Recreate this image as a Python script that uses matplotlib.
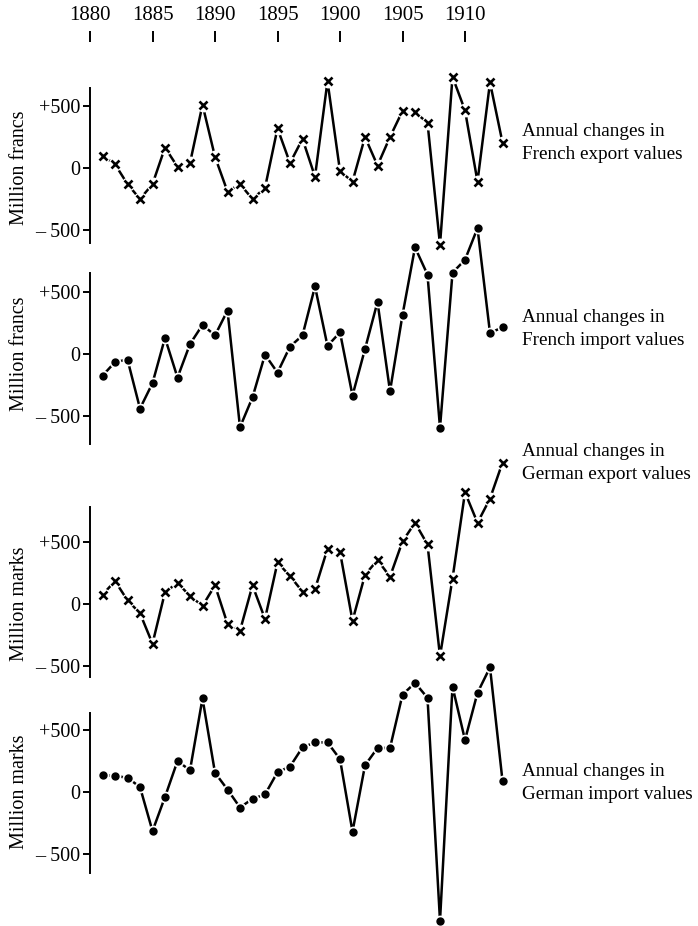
import numpy as np
import matplotlib.pyplot as plt

plt.rcParams['font.family'] = ['Liberation Serif', 'DejaVu Serif']
plt.rcParams['font.size'] = 13

# annual changes, 1881-1913
years = list(range(1881, 1914))
fr_exp = [100, 30, -130, -250, -130, 165, 10, 40, 510, 90, -190, -130, -250, -160, 320,
          40, 235, -70, 700, -25, -110, 250, 20, 250, 460, 450, 365, -620, 735, 465,
          -110, 690, 205]
fr_imp = [-175, -65, -45, -440, -235, 130, -190, 80, 235, 150, 350, -590, -350, -5, -150,
          60, 150, 545, 65, 175, -335, 40, 420, -300, 315, 860, 640, -595, 655, 760,
          1015, 170, 215]
de_exp = [75, 185, 30, -75, -320, 95, 170, 65, -15, 150, -160, -215, 150, -120, 335,
          225, 100, 120, 445, 420, -135, 235, 355, 220, 505, 655, 480, -420, 205, 900,
          655, 850, 1140]
de_imp = [135, 130, 115, 40, -315, -40, 250, 175, 755, 155, 20, -125, -55, -20, 160,
          205, 360, 400, 400, 265, -320, 215, 355, 355, 785, 880, 760, -1040, 850, 420,
          800, 1005, 90]
tick_years = [1880, 1885, 1890, 1895, 1900, 1905, 1910]

series = [fr_exp, fr_imp, de_exp, de_imp]
markers = ['x', 'o', 'x', 'o']
ylabels = ['Million francs', 'Million francs', 'Million marks', 'Million marks']
notes = ['Annual changes in\nFrench export values',
         'Annual changes in\nFrench import values',
         'Annual changes in\nGerman export values',
         'Annual changes in\nGerman import values']

# layout in pixels: zero line, spine top, spine bottom, note centre
W, H = 698, 926
layout = [(168, 88, 243, 143), (354, 273, 444, 329),
          (604, 507, 677, 463), (792, 713, 873, 783)]
ppu = 62 / 500.0  # pixels per million

fig = plt.figure(figsize=(W / 100, H / 100), dpi=100)

for vals, mk, lab, note, (zero, top, bot, ny) in zip(series, markers, ylabels, notes, layout):
    ax = fig.add_axes([90 / W, 1 - bot / H, 425 / W, (bot - top) / H])
    ax.set_xlim(1880, 1914)
    ax.set_ylim((zero - bot) / ppu, (zero - top) / ppu)
    ax.plot(years, vals, color='black', lw=1.8, clip_on=False, zorder=2)
    if mk == 'x':
        ax.plot(years, vals, 'o', ms=9, color='white', clip_on=False, zorder=3)
        ax.plot(years, vals, 'x', ms=6, mew=1.9, color='black', clip_on=False, zorder=4)
    else:
        ax.plot(years, vals, 'o', ms=7.5, color='white', clip_on=False, zorder=3)
        ax.plot(years, vals, 'o', ms=5, color='black', clip_on=False, zorder=4)
    for s in ['top', 'right', 'bottom']:
        ax.spines[s].set_visible(False)
    ax.spines['left'].set_linewidth(1.4)
    ax.set_xticks([])
    ax.set_yticks([-500, 0, 500])
    ax.set_yticklabels(['\u2013 500', '0', '+500'])
    ax.tick_params(axis='y', length=5, width=1.4, pad=2, labelsize=14.5)
    ax.patch.set_alpha(0)
    fig.text(20 / W, 1 - zero / H, lab, rotation=90, ha='center', va='center', fontsize=14.5)
    fig.text(522 / W, 1 - ny / H, note, ha='left', va='center', fontsize=13.8, linespacing=1.5)

# year scale at the top
axt = fig.add_axes([90 / W, 1 - 32 / H, 425 / W, 1 / H])
axt.set_xlim(1880, 1914)
axt.set_ylim(0, 1)
for s in axt.spines.values():
    s.set_visible(False)
axt.set_yticks([])
axt.set_xticks(tick_years)
axt.set_xticklabels([str(y) for y in tick_years])
axt.tick_params(axis='x', top=True, bottom=False, labeltop=True, labelbottom=False,
                direction='in', length=8, width=1.4, pad=4, labelsize=15)
axt.patch.set_alpha(0)

fig.savefig('out.png', dpi=100)
